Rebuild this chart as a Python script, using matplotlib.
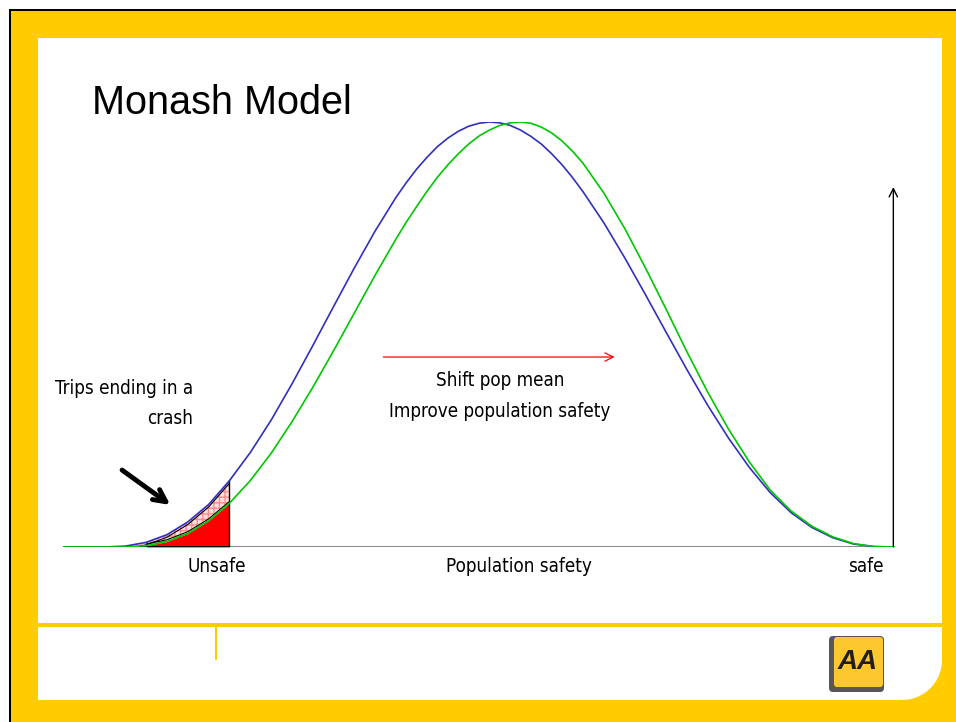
import numpy as np
import matplotlib
matplotlib.use('Agg')
import matplotlib.pyplot as plt
from matplotlib.patches import Rectangle, Circle, FancyBboxPatch

# safety index (0 = unsafe end, 100 = safe end), curve heights in % of peak
safety = [0, 2.5, 5, 7.5, 10, 12.5, 15, 17.5, 20, 22.5, 25, 27.5, 30, 32.5,
          35, 37.5, 40, 41.25, 42.5, 43.75, 45, 46.25, 47.5, 48.75, 50,
          51.25, 52.5, 53.75, 55, 56.25, 57.5, 58.75, 60, 61.25, 62.5, 65,
          67.5, 70, 72.5, 75, 77.5, 80, 82.5, 85, 87.5, 90, 92.5, 95, 97.5, 100]
pop_before = [0, 0, 0, 0.2, 1.1, 2.9, 5.9, 10.0, 15.6, 22.2, 29.8, 38.3,
              47.3, 56.5, 65.6, 74.3, 82.2, 85.7, 88.9, 91.7, 94.2, 96.2,
              97.8, 99.0, 99.7, 100, 99.8, 99.2, 98.1, 96.6, 94.8, 92.5,
              89.9, 86.9, 83.6, 76.3, 68.1, 59.4, 50.5, 41.7, 33.3, 25.6,
              18.7, 12.8, 8.1, 4.6, 2.2, 0.7, 0.1, 0]
pop_after = [0, 0, 0, 0, 0.3, 1.3, 3.2, 6.2, 10.3, 15.6, 22.0, 29.4, 37.5,
             46.1, 55.0, 63.9, 72.4, 76.4, 80.1, 83.7, 87.0, 89.9, 92.5,
             94.8, 96.7, 98.1, 99.2, 99.8, 100, 99.7, 98.8, 97.4, 95.5,
             93.1, 90.3, 83.3, 75.0, 65.7, 55.9, 45.9, 36.4, 27.7, 20.0,
             13.4, 8.5, 4.9, 2.4, 0.8, 0.1, 0]
unsafe_cut = 20

title = 'Monash Model'
crash_label = 'Trips ending in a\ncrash'
shift_label = 'Shift pop mean\nImprove population safety'
axis_labels = ['Unsafe', 'Population safety', 'safe']
axis_label_pos = [18.5, 54.8, 96.5]

W, H = 956, 722
fig = plt.figure(figsize=(W / 100, H / 100), dpi=100)

# slide frame in pixel coords
bg = fig.add_axes([0, 0, 1, 1])
bg.set_xlim(0, W)
bg.set_ylim(H, 0)
bg.axis('off')
bg.add_patch(Rectangle((9, 9), W, H, color='black', lw=0))
bg.add_patch(Rectangle((11, 11), W, H, color='#ffcc00', lw=0))
bg.add_patch(Rectangle((38, 38), 904, 622, color='white', lw=0))
bg.add_patch(Rectangle((38, 38), 864, 662, color='white', lw=0))
bg.add_patch(Circle((902, 660), 40, color='white', lw=0))
bg.add_patch(Rectangle((38, 623), 904, 4, color='#ffcc00', lw=0))
bg.add_patch(Rectangle((215, 627), 2, 33, color='#ffcc00', lw=0))

# AA logo
bg.add_patch(FancyBboxPatch((829, 636), 55, 56, boxstyle='round,pad=0,rounding_size=4',
                            color='#5b5556', lw=0))
bg.add_patch(FancyBboxPatch((834, 637), 49, 50, boxstyle='round,pad=0,rounding_size=3',
                            color='#fdc82f', lw=0))
bg.text(858, 662, 'AA', ha='center', va='center', fontsize=20, fontweight='bold',
        style='italic', color='#231f20', family='Liberation Sans')

bg.text(92, 103, title, fontsize=28.5, family='Liberation Sans', va='center')

# chart
ax = fig.add_axes([63 / W, (H - 547) / H, (895 - 63) / W, (547 - 122) / H])
ax.set_xlim(0, 100)
ax.set_ylim(0, 100)
ax.axis('off')
ax.patch.set_alpha(0)

s = np.array(safety)
b = np.array(pop_before)
g = np.array(pop_after)

ax.plot([0, 100], [0, 0], color='#808080', lw=1.3)

pink = (s >= 5) & (s <= unsafe_cut)
ax.fill_between(s, g, b, where=pink, facecolor='#ffdede', edgecolor='#ff8c8c',
                hatch='+++', linewidth=0)
red = (s >= 10) & (s <= unsafe_cut)
ax.fill_between(s, 0, g, where=red, color='#ff0000', linewidth=0)
ax.plot(s[pink], b[pink] - 0.6, color='black', lw=0.8)
ax.plot(s[red], g[red] + 0.4, color='black', lw=0.8)
ax.plot([unsafe_cut, unsafe_cut], [0, b[s == unsafe_cut][0]], color='black', lw=1)
ax.plot([0.5, unsafe_cut], [0, 0], color='black', lw=1.4)

ax.plot(s, b, color='#3030c0', lw=1.2, solid_joinstyle='round')
ax.plot(s, g, color='#00c800', lw=1.2, solid_joinstyle='round')

ax.annotate('', xy=(66.3, 44.7), xytext=(38.5, 44.7),
            arrowprops=dict(arrowstyle='->', color='red', lw=0.9,
                            mutation_scale=15, shrinkA=0, shrinkB=0))
ax.annotate('', xy=(99.8, 84.7), xytext=(99.8, 0),
            arrowprops=dict(arrowstyle='->', color='black', lw=1,
                            mutation_scale=15, shrinkA=0, shrinkB=0))
ax.annotate('', xy=(12.9, 9.9), xytext=(7.1, 18.1),
            arrowprops=dict(arrowstyle='->', color='black', lw=3.5,
                            mutation_scale=22, shrinkA=0, shrinkB=0))

txt = dict(fontsize=13.5, family='DejaVu Sans', stretch='condensed')
ax.text(15.6, 33.7, crash_label, ha='right', va='center', multialignment='right',
        linespacing=1.75, **txt)
ax.text(52.5, 35.5, shift_label, ha='center', va='center', linespacing=1.75, **txt)
for lab, xp in zip(axis_labels, axis_label_pos):
    ax.text(xp, -4.7, lab, ha='center', va='center', **txt)

fig.savefig('out.png', dpi=100)
